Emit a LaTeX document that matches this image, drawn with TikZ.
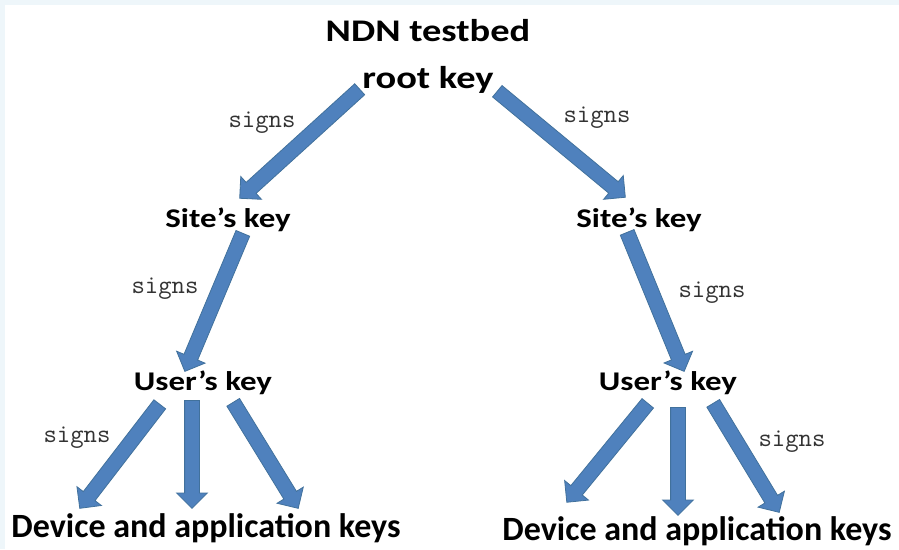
\documentclass[tikz,border=0pt]{standalone}
\usepackage{fontspec}
\setmainfont{Carlito}
\newfontfamily\widefont[FakeStretch=1.22]{Carlito}
\usetikzlibrary{calc,shapes.arrows}
\definecolor{arrowfill}{HTML}{4F81BD}
\definecolor{arrowline}{HTML}{41719C}
\definecolor{framecol}{HTML}{EEF6FA}
\definecolor{signcol}{HTML}{333333}

\tikzset{
  keynode/.style={font=\widefont\bfseries\fontsize{27}{30}\selectfont, anchor=base, inner sep=0pt},
  topnode/.style={keynode, font=\widefont\bfseries\fontsize{31.5}{34}\selectfont},
  leafnode/.style={font=\bfseries\fontsize{34}{38}\selectfont, anchor=base, inner sep=0pt},
  signnode/.style={font=\ttfamily\fontsize{26}{28}\selectfont, text=signcol, inner sep=0pt},
  signarrow/.style={single arrow, draw=arrowline, fill=arrowfill, line width=0.8pt,
    inner sep=0pt, minimum width=0pt, single arrow head extend=8pt,
    single arrow head indent=0pt, anchor=tail}
}
% block arrow from one named point to another
\newcommand{\keyarrow}[2]{%
  \path let \p1=($(#2)-(#1)$), \n1={veclen(\x1,\y1)}, \n2={atan2(\y1,\x1)} in
    node[signarrow, minimum height=\n1, rotate=\n2] at (#1) {\vrule width 0pt height 7pt depth 7pt};}

\begin{document}
\begin{tikzpicture}[x=1pt,y=-1pt]
  \useasboundingbox (0,0) rectangle (899,549);
  \fill[framecol] (0,0) rectangle (899,549);
  \fill[white] (5,5) rectangle (899,549);

  % key names
  \node[topnode] (ndn) at (428,41) {NDN testbed};
  \node[topnode] (root) at (428,88) {root key};
  \node[keynode] (siteL) at (228,227) {Site’s key};
  \node[keynode] (siteR) at (639,227) {Site’s key};
  \node[keynode] (userL) at (203,390) {User’s key};
  \node[keynode] (userR) at (668,390) {User’s key};
  \node[leafnode] (devL) at (206,537) {Device and application keys};
  \node[leafnode] (devR) at (697,540) {Device and application keys};

  % labels
  \node[signnode] (s1) at (262,123) {signs};
  \node[signnode] (s2) at (597,118) {signs};
  \node[signnode] (s3) at (165,289) {signs};
  \node[signnode] (s4) at (712,293) {signs};
  \node[signnode] (s5) at (77,438) {signs};
  \node[signnode] (s6) at (792,442) {signs};

  % arrow ends
  \coordinate (rootL) at (360,89);
  \coordinate (rootR) at (497,91);
  \coordinate (siteLin) at (240,198);
  \coordinate (siteRin) at (625,197);
  \coordinate (siteLout) at (243,233);
  \coordinate (siteRout) at (627,232);
  \coordinate (userLin) at (185,371);
  \coordinate (userRin) at (684,371);
  \coordinate (userLa) at (160,404);
  \coordinate (userLb) at (192,400);
  \coordinate (userLc) at (233,402);
  \coordinate (userRa) at (648,403);
  \coordinate (userRb) at (678,407);
  \coordinate (userRc) at (713,403);
  \coordinate (devLa) at (80,508);
  \coordinate (devLb) at (192,508);
  \coordinate (devLc) at (298,508);
  \coordinate (devRa) at (567,502);
  \coordinate (devRb) at (678,515);
  \coordinate (devRc) at (779,512);

  \keyarrow{rootL}{siteLin}
  \keyarrow{rootR}{siteRin}
  \keyarrow{siteLout}{userLin}
  \keyarrow{siteRout}{userRin}
  \keyarrow{userLa}{devLa}
  \keyarrow{userLb}{devLb}
  \keyarrow{userLc}{devLc}
  \keyarrow{userRa}{devRa}
  \keyarrow{userRb}{devRb}
  \keyarrow{userRc}{devRc}
\end{tikzpicture}
\end{document}
